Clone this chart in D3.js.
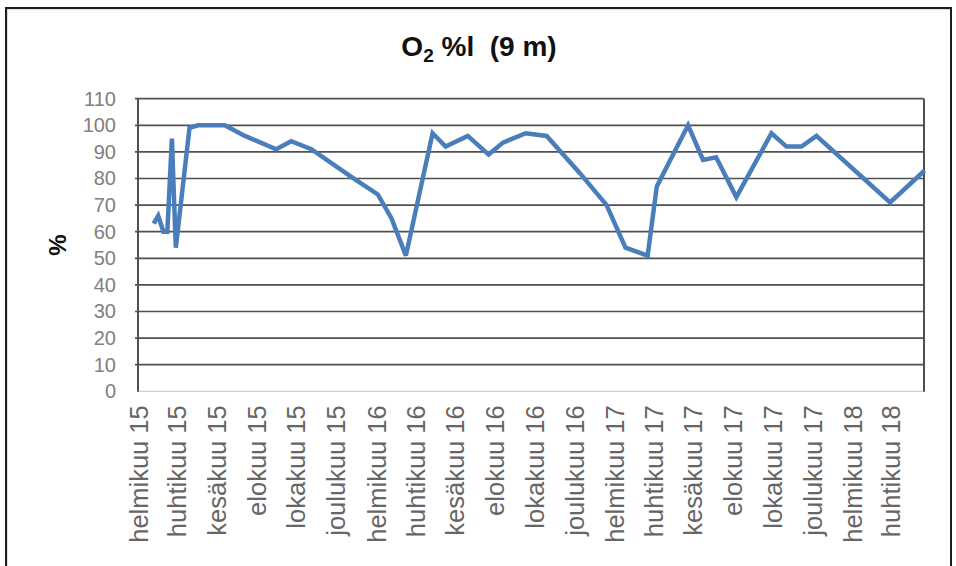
<!DOCTYPE html>
<html>
<head>
<meta charset="utf-8">
<script src="https://cdn.jsdelivr.net/npm/d3@7"></script>
<style>
  html, body { margin: 0; padding: 0; background: #fff; }
  svg { display: block; }
</style>
</head>
<body>
<svg id="chart" width="956" height="566"></svg>
<script>
// Sampling dates and oxygen saturation (%) at 9 m depth
const sampleDates = [
  "2015-02-25", "2015-03-04", "2015-03-12", "2015-03-18", "2015-03-25", "2015-03-31",
  "2015-04-21", "2015-05-04", "2015-06-14", "2015-07-15", "2015-09-01", "2015-09-24",
  "2015-10-25", "2015-12-23", "2016-02-04", "2016-02-25", "2016-03-18", "2016-04-28",
  "2016-05-18", "2016-06-21", "2016-07-23", "2016-08-14", "2016-09-18", "2016-10-20",
  "2016-12-10", "2017-01-20", "2017-02-18", "2017-03-24", "2017-04-07", "2017-05-25",
  "2017-06-17", "2017-07-07", "2017-08-07", "2017-09-30", "2017-10-23", "2017-11-15",
  "2017-12-08", "2018-03-31", "2018-05-23"
];
const o2Values = [
  63, 66, 60, 60, 95, 54,
  99, 100, 100, 96, 91, 94,
  91, 81, 74, 65, 51, 97,
  92, 96, 89, 93.5, 97, 96,
  82, 70, 54, 51, 77, 100,
  87, 88, 73, 97, 92, 92,
  96, 71, 83
];

// Axis ticks
const yTicks = [0, 10, 20, 30, 40, 50, 60, 70, 80, 90, 100, 110];
const xTickLabels = [
  "helmikuu 15", "huhtikuu 15", "kesäkuu 15", "elokuu 15", "lokakuu 15", "joulukuu 15",
  "helmikuu 16", "huhtikuu 16", "kesäkuu 16", "elokuu 16", "lokakuu 16", "joulukuu 16",
  "helmikuu 17", "huhtikuu 17", "kesäkuu 17", "elokuu 17", "lokakuu 17", "joulukuu 17",
  "helmikuu 18", "huhtikuu 18"
];
const axisStart = "2015-02-01";
const axisEnd = "2018-05-22";

const parse = d3.timeParse("%Y-%m-%d");
const data = sampleDates.map((d, i) => ({ date: parse(d), value: o2Values[i] }));

const plot = { left: 138, right: 924, top: 98.7, bottom: 391.3 };

const svg = d3.select("#chart");

// Outer chart frame
svg.append("rect")
  .attr("x", 7).attr("y", 9).attr("width", 944).attr("height", 620)
  .attr("fill", "none").attr("stroke", "#bdbdbd").attr("stroke-width", 1);
svg.append("rect")
  .attr("x", 6).attr("y", 8).attr("width", 945).attr("height", 620)
  .attr("fill", "none").attr("stroke", "#1e1e1e").attr("stroke-width", 2);

const x = d3.scaleTime()
  .domain([parse(axisStart), parse(axisEnd)])
  .range([plot.left, plot.right]);

const y = d3.scaleLinear()
  .domain([0, 110])
  .range([plot.bottom, plot.top]);

// Horizontal gridlines
svg.append("g")
  .selectAll("line")
  .data(yTicks.filter(v => v > 0))
  .join("line")
  .attr("x1", plot.left - 3).attr("x2", plot.right)
  .attr("y1", d => y(d)).attr("y2", d => y(d))
  .attr("stroke", "#505050").attr("stroke-width", 1.7);

// Baseline
svg.append("line")
  .attr("x1", plot.left).attr("x2", plot.right)
  .attr("y1", y(0)).attr("y2", y(0))
  .attr("stroke", "#d0d0d0").attr("stroke-width", 1.2);

// Left and right plot edges
svg.append("line")
  .attr("x1", plot.left).attr("x2", plot.left)
  .attr("y1", plot.top).attr("y2", y(0) + 0.5)
  .attr("stroke", "#505050").attr("stroke-width", 2);
svg.append("line")
  .attr("x1", plot.right).attr("x2", plot.right)
  .attr("y1", plot.top).attr("y2", y(0) + 0.5)
  .attr("stroke", "#505050").attr("stroke-width", 2);

// Y axis labels
const yAxis = d3.axisLeft(y).tickValues(yTicks).tickSize(0).tickPadding(22);
svg.append("g")
  .attr("transform", `translate(${plot.left},0)`)
  .call(yAxis)
  .call(g => g.select(".domain").remove())
  .call(g => g.selectAll("text")
    .attr("fill", "#808080")
    .attr("font-family", "'Liberation Sans', Arial, sans-serif")
    .attr("font-size", 20));

// X axis labels, every second month, rotated
const xTickDates = xTickLabels.map((_, i) => d3.timeMonth.offset(parse(axisStart), 2 * i));
const xAxis = d3.axisBottom(x)
  .tickValues(xTickDates)
  .tickSize(0)
  .tickFormat((d, i) => xTickLabels[i]);
svg.append("g")
  .attr("transform", `translate(0,${plot.bottom})`)
  .call(xAxis)
  .call(g => g.select(".domain").remove())
  .call(g => g.selectAll("text")
    .attr("fill", "#666")
    .attr("font-family", "'Liberation Sans', Arial, sans-serif")
    .attr("font-size", 25.5)
    .attr("text-anchor", "end")
    .attr("transform", "rotate(-90)")
    .attr("x", -14)
    .attr("y", 0)
    .attr("dy", "0.36em"));

// Data line
const line = d3.line()
  .x(d => x(d.date))
  .y(d => y(d.value));
svg.append("path")
  .datum(data)
  .attr("d", line)
  .attr("fill", "none")
  .attr("stroke", "#4a7ebb")
  .attr("stroke-width", 4.5)
  .attr("stroke-linejoin", "miter")
  .attr("stroke-miterlimit", 3);

// Title
const title = svg.append("text")
  .attr("x", 479).attr("y", 56)
  .attr("text-anchor", "middle")
  .attr("font-family", "'Liberation Sans', Arial, sans-serif")
  .attr("font-weight", "bold")
  .attr("font-size", 28)
  .attr("fill", "#111");
title.append("tspan").text("O");
title.append("tspan").attr("font-size", 19).attr("dy", 6).text("2");
title.append("tspan").attr("dy", -6).attr("xml:space", "preserve").text(" %l  (9 m)");

// Y axis title
svg.append("text")
  .attr("transform", "translate(58,245) rotate(-90)")
  .attr("text-anchor", "middle")
  .attr("dy", "0.35em")
  .attr("font-family", "'Liberation Sans', Arial, sans-serif")
  .attr("font-weight", "bold")
  .attr("font-size", 24)
  .attr("fill", "#111")
  .text("%");
</script>
</body>
</html>
